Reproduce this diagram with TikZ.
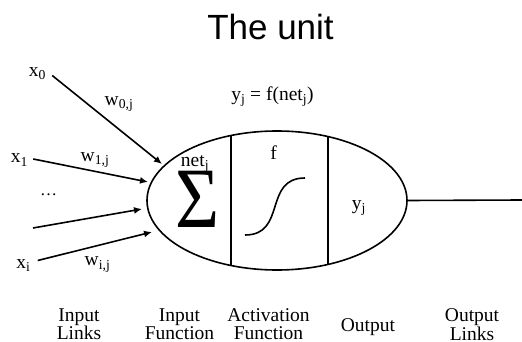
\documentclass[tikz,border=0pt]{standalone}
\usepackage{fontspec}
\usepackage{graphicx}
\setmainfont{Liberation Serif}
\newfontfamily\titlefont{Liberation Sans}
\usetikzlibrary{arrows.meta,shapes.geometric}
\tikzset{
  lbl/.style={inner sep=0pt, font=\fontsize{19.5}{21}\selectfont, align=center},
  captxt/.style={inner sep=0pt, font=\fontsize{19.5}{17.5}\selectfont, align=center},
  inarrow/.style={line width=1.6pt, -{Latex[length=8pt,width=7pt]}},
  thick line/.style={line width=1.6pt}
}
\begin{document}
\begin{tikzpicture}[x=1pt,y=-1pt]
\useasboundingbox (0,0) rectangle (522,342);
% title
\node[inner sep=0pt, anchor=base, font=\titlefont\fontsize{35}{35}\selectfont] (title) at (270.5,40) {The unit};
% unit body
\node[draw, thick line, ellipse, minimum width=260pt, minimum height=139pt, inner sep=0pt] (unit) at (277,200.5) {};
\coordinate (d1t) at (231,135.5);
\coordinate (d1b) at (231,265.5);
\coordinate (d2t) at (328,136.5);
\coordinate (d2b) at (328,264.5);
\draw[thick line] (d1t) -- (d1b);
\draw[thick line] (d2t) -- (d2b);
% output link
\coordinate (outend) at (522,200);
\draw[thick line] (unit.east) -- (outend);
% inputs
\node[lbl] (x0) at (37.5,73.5) {x\textsubscript{0}};
\node[lbl] (x1) at (19.5,160) {x\textsubscript{1}};
\node[lbl] (dots) at (48.5,195) {\fontsize{17}{17}\selectfont\dots};
\node[lbl] (xi) at (23.5,265.5) {x\textsubscript{i}};
\coordinate (s2) at (33,228);
\coordinate (e0) at (162,164);
\coordinate (e1) at (148,182);
\coordinate (e2) at (142,209);
\coordinate (e3) at (152,232);
\draw[inarrow] (x0.east) ++(6,2) -- (e0);
\draw[inarrow] (x1.east) ++(5,-1) -- (e1);
\draw[inarrow] (s2) -- (e2);
\draw[inarrow] (xi.east) ++(7,-5) -- (e3);
\node[lbl] (w0) at (119,104) {w\textsubscript{0,j}};
\node[lbl] (w1) at (95,160) {w\textsubscript{1,j}};
\node[lbl] (wi) at (97.5,264.5) {w\textsubscript{i,j}};
% inside
\node[lbl] (net) at (195,164) {net\textsubscript{j}};
\node[inner sep=0pt, anchor=base, font=\fontsize{86}{86}\selectfont] (sigma) at (197.5,227) {\scalebox{0.88}[1]{Σ}};
\node[lbl, anchor=base] (f) at (273.5,160) {f};
\draw[line width=1.6pt] (245,235) .. controls (287,235) and (263,178) .. (305,178);
\node[lbl] (yj) at (359,208) {y\textsubscript{j}};
\node[lbl] (eq) at (272.5,97) {y\textsubscript{j} = f(net\textsubscript{j})};
% captions
\node[captxt] (c1) at (79,324.3) {Input\\Links};
\node[captxt] (c2) at (179.5,324.3) {Input\\Function};
\node[captxt] (c3) at (268.5,324.3) {Activation\\Function};
\node[captxt, anchor=base] (c4) at (368,331) {Output};
\node[captxt] (c5) at (472,324.3) {Output\\Links};
\end{tikzpicture}
\end{document}
